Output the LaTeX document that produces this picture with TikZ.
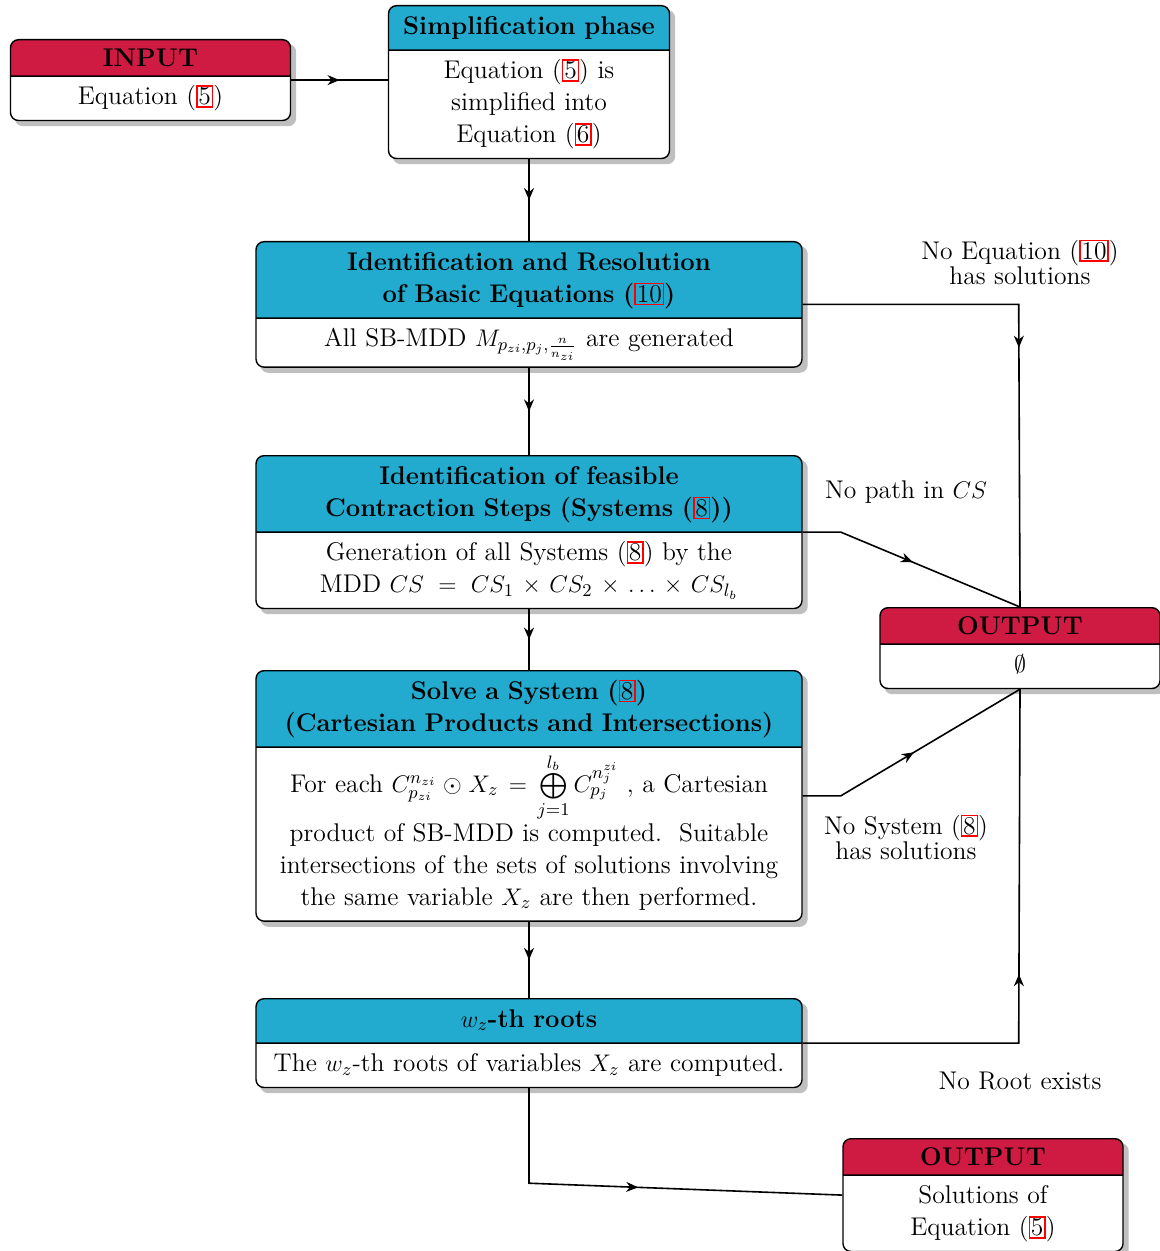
\documentclass[tikz,border=0pt]{standalone}
\usepackage{amsmath}
\usepackage{amssymb}
\usepackage{tikz}
\usetikzlibrary{shapes.multipart,backgrounds,arrows.meta,decorations.markings}
\definecolor{headblue}{RGB}{34,171,206}
\definecolor{headred}{RGB}{207,27,66}
\newcommand{\eqbox}[1]{{\mdseries\fboxsep=0.4pt\fboxrule=0.8pt\color{red}\fbox{\color{black}#1}}}
\newcommand{\iostrut}{\rule[-1.6pt]{0pt}{12pt}}

\begin{document}
\begin{tikzpicture}[x=0.5pt,y=-0.5pt,
	font=\fontsize{12.8}{16}\selectfont,
	card/.style={rectangle split, rectangle split parts=2, draw, line width=0.7pt, rounded corners=4pt,
		inner xsep=3pt, inner ysep=2.75pt, anchor=north, align=center},
	phase/.style={card, text width=267pt, rectangle split part fill={headblue,white}},
	small phase/.style={card, text width=134.5pt, rectangle split part fill={headblue,white}},
	io/.style={card, text width=134pt, rectangle split part fill={headred,white}},
	shade/.style={fill=black!25, rounded corners=4pt},
	flow/.style={line width=0.8pt, postaction={decorate}, decoration={markings,
		mark=at position 0.5 with {\arrow{Stealth[length=6pt,width=5pt]}}}},
	note/.style={align=center, font=\fontsize{12.8}{12.5}\selectfont}]
			\useasboundingbox (0,0) rectangle (1160,1251);
			\node[io] (input) at (150.5,39) {\iostrut\textbf{INPUT}\nodepart{two}\strut Equation (\eqbox{5})};
			\node[small phase] (simp) at (529,5) {\textbf{Simplification phase}\strut\nodepart{two}\strut Equation (\eqbox{5}) is\\simplified into\\Equation (\eqbox{6})\strut};
			\node[phase] (basic) at (529,241) {\bfseries\strut Identification and Resolution\\of Basic Equations (\eqbox{10})\strut\nodepart{two}\strut All SB-MDD $M_{p_{zi},p_j,\frac{n}{n_{zi}}}$ are generated};
			\node[phase] (steps) at (529,455) {\bfseries\strut Identification of feasible\\Contraction Steps (Systems (\eqbox{8}))\strut\nodepart{two}\strut Generation of all Systems (\eqbox{8}) by the\\MDD $CS = CS_1 \times CS_2 \times \ldots \times CS_{l_b}$\strut};
			\node[phase] (solve) at (529,670) {\bfseries\strut Solve a System (\eqbox{8})\\(Cartesian Products and Intersections)\strut\nodepart{two}For each $C^{n_{zi}}_{p_{zi}} \odot X_z = \bigoplus\limits_{j=1}^{l_b} C^{n^{zi}_j}_{p_j}$ , a Cartesian\\product of SB-MDD is computed.\ \ Suitable\\intersections of the sets of solutions involving\\the same variable $X_z$ are then performed.\strut};
			\node[phase] (roots) at (529,998) {\strut$w_z$\textbf{-th roots}\nodepart{two}\strut The $w_z$-th roots of variables $X_z$ are computed.};
			\node[io] (empty) at (1020,607) {\iostrut\textbf{OUTPUT}\nodepart{two}\strut$\emptyset$};
			\node[io] (sol) at (983,1138) {\iostrut\textbf{OUTPUT}\nodepart{two}\strut Solutions of\\Equation (\eqbox{5})\strut};
			\node[note] (noeq) at (1020,262) {No Equation (\eqbox{10})\\has solutions};
			\node[note] (nopath) at (906,492) {No path in $CS$};
			\node[note] (nosys) at (906,837) {No System (\eqbox{8})\\has solutions};
			\node[note] (noroot) at (1020,1081) {No Root exists};
			\begin{scope}[on background layer]
				\foreach \n in {input,simp,basic,steps,solve,roots,empty,sol}
					\fill[shade] ([shift={(5,5)}]\n.north west) rectangle ([shift={(5,5)}]\n.south east);
			\end{scope}
			\draw[flow] (input.east) -- (input.east -| simp.west);
			\draw[flow] (simp.south) -- (basic.north);
			\draw[flow] (basic.south) -- (steps.north);
			\draw[flow] (steps.south) -- (solve.north);
			\draw[flow] (solve.south) -- (roots.north);
			\draw[flow] (roots.south) -- ++(0,95) -- (sol.west);
			\draw[flow] (basic.east) -- ++(216,0) -- (empty.north);
			\draw[flow] (steps.east) -- ++(38,0) -- (empty.north);
			\draw[flow] (solve.east) -- ++(38,0) -- (empty.south);
			\draw[flow] (roots.east) -- ++(216,0) -- (empty.south);
\end{tikzpicture}
\end{document}
